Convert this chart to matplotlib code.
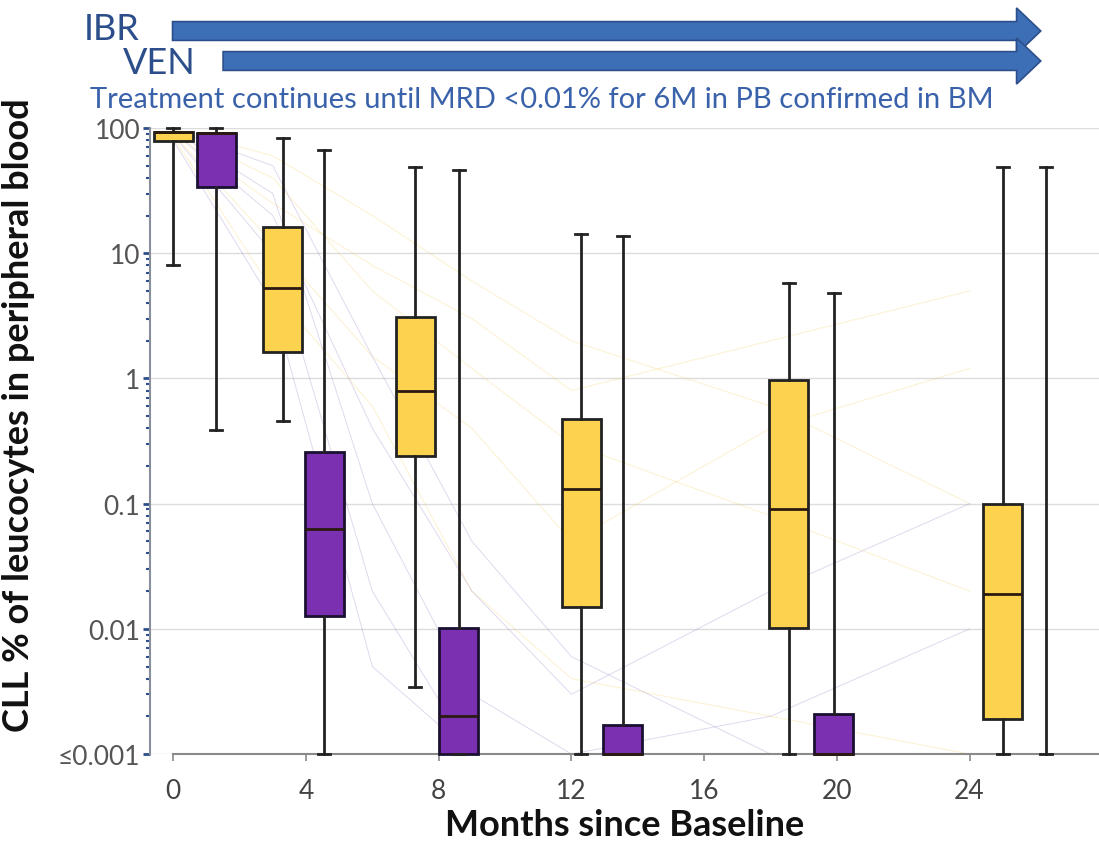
import matplotlib
matplotlib.use("Agg")
import matplotlib.pyplot as plt
from matplotlib.patches import FancyArrow
from matplotlib.ticker import LogLocator, NullFormatter, FixedLocator

plt.rcParams['font.family'] = ['Lato', 'DejaVu Sans']

# box summaries (CLL % of leucocytes)
# yellow = IBR arm, purple = IBR+VEN arm
yellow_month = [0, 3.3, 7.3, 12.3, 18.55, 25.0]
yellow_whishi = [100, 83, 49, 14.2, 5.8, 49]
yellow_q3 = [93, 16.2, 3.1, 0.47, 0.98, 0.10]
yellow_med = [93, 5.25, 0.80, 0.13, 0.091, 0.019]
yellow_q1 = [79, 1.64, 0.239, 0.0149, 0.0101, 0.0019]
yellow_whislo = [8.0, 0.46, 0.0034, 0.001, 0.001, 0.001]

purple_month = [1.3, 4.55, 8.6, 13.55, 19.9, 26.3]
purple_whishi = [100, 67, 46, 13.7, 4.8, 49]
purple_q3 = [91, 0.257, 0.0101, 0.0017, 0.0021, 0.001]
purple_med = [91, 0.063, 0.002, 0.001, 0.001, 0.001]
purple_q1 = [34, 0.0127, 0.001, 0.001, 0.001, 0.001]
purple_whislo = [0.39, 0.001, 0.001, 0.001, 0.001, 0.001]

# a few faint individual trajectories in the background
traj_month = [0, 3, 6, 9, 12, 18, 24]
yellow_traj = [
    [95, 40, 5, 1.2, 0.3, 0.08, 0.02],
    [90, 12, 1.5, 0.4, 0.05, 0.4, 1.2],
    [98, 60, 20, 6, 2, 0.6, 0.1],
    [85, 5, 0.6, 0.02, 0.004, 0.002, 0.001],
    [92, 25, 8, 3, 0.8, 2, 5],
]
purple_traj = [
    [95, 30, 0.1, 0.003, 0.001, 0.001, 0.001],
    [88, 10, 0.02, 0.001, 0.001, 0.002, 0.01],
    [97, 50, 1.5, 0.05, 0.006, 0.001, 0.001],
    [80, 4, 0.005, 0.001, 0.001, 0.001, 0.001],
    [93, 20, 0.4, 0.02, 0.003, 0.02, 0.1],
]

yticks = [100, 10, 1, 0.1, 0.01, 0.001]
ytick_labels = ['100', '10', '1', '0.1', '0.01', '≤0.001']
xticks = [0, 4, 8, 12, 16, 20, 24]

YELLOW = '#fdd24f'
PURPLE = '#7a30b0'
BLUE = '#3d6fb6'
DARKBLUE = '#2c4f8c'


def stats(month, lo, q1, med, q3, hi):
    out = []
    for i in range(len(month)):
        out.append(dict(whislo=lo[i], q1=q1[i], med=med[i], q3=q3[i],
                        whishi=hi[i], fliers=[]))
    return out


fig = plt.figure(figsize=(10.99, 8.54), dpi=100)
ax = fig.add_axes([0.1365, 0.1159, 0.8635, 0.733])
ax.set_yscale('log')
ax.set_ylim(0.001, 100)
ax.set_xlim(-0.7, 27.9)

for row in yellow_traj:
    ax.plot(traj_month, row, color='#f5d060', lw=0.7, alpha=0.3, zorder=1)
for row in purple_traj:
    ax.plot(traj_month, row, color='#9a80c8', lw=0.7, alpha=0.3, zorder=1)

common = dict(widths=1.17, showfliers=False, patch_artist=True,
              whiskerprops=dict(color='#222222', lw=2),
              capprops=dict(color='#222222', lw=2),
              medianprops=dict(color='#2a1a10', lw=2),
              manage_ticks=False, zorder=3)
b1 = ax.bxp(stats(yellow_month, yellow_whislo, yellow_q1, yellow_med,
                  yellow_q3, yellow_whishi),
            positions=yellow_month,
            boxprops=dict(facecolor=YELLOW, edgecolor='#222222', lw=2),
            capwidths=0.36, **common)
b2 = ax.bxp(stats(purple_month, purple_whislo, purple_q1, purple_med,
                  purple_q3, purple_whishi),
            positions=purple_month,
            boxprops=dict(facecolor=PURPLE, edgecolor='#1a1030', lw=2),
            capwidths=0.36, **common)
for b in (b1, b2):
    for k in b:
        for art in b[k]:
            art.set_clip_on(False)
# last purple group has an empty box: only its whisker shows
b2['boxes'][-1].set_visible(False)
b2['medians'][-1].set_visible(False)

ax.yaxis.grid(True, which='major', color='#dcdcdc', lw=1)
ax.set_axisbelow(True)

ax.spines['top'].set_visible(False)
ax.spines['right'].set_visible(False)
ax.spines['left'].set_color('#8a8fa0')
ax.spines['left'].set_linewidth(1.5)
ax.spines['bottom'].set_color('#8a8a8a')
ax.spines['bottom'].set_linewidth(1.5)
ax.spines['bottom'].set_bounds(0, 27.9)

ax.yaxis.set_major_locator(FixedLocator(yticks))
ax.set_yticklabels(ytick_labels)
ax.yaxis.set_minor_locator(LogLocator(base=10, subs=range(2, 10)))
ax.yaxis.set_minor_formatter(NullFormatter())
ax.tick_params(axis='y', which='major', length=5, width=2, color=DARKBLUE,
               labelsize=19, labelcolor='#555555', pad=2)
ax.tick_params(axis='y', which='minor', length=3, width=1.5, color=DARKBLUE)

ax.set_xticks(xticks)
ax.tick_params(axis='x', length=5, width=1.2, color='#8a8a8a',
               labelsize=19, labelcolor='#444444', pad=12)

ax.set_ylabel('CLL % of leucocytes in peripheral blood', fontsize=26,
              fontweight='bold', color='#111111')
ax.yaxis.set_label_coords(-0.121, 0.543)
ax.set_xlabel('Months since Baseline', fontsize=26, fontweight='bold',
              color='#111111', labelpad=4)

# treatment arrows above the plot
fig.add_artist(FancyArrow(0.157, 1 - 32 / 854, 0.79, 0, width=0.022,
                          head_width=0.054, head_length=0.022,
                          length_includes_head=True, transform=fig.transFigure,
                          facecolor=BLUE, edgecolor=DARKBLUE, lw=1.2))
fig.add_artist(FancyArrow(0.203, 1 - 62 / 854, 0.744, 0, width=0.022,
                          head_width=0.054, head_length=0.022,
                          length_includes_head=True, transform=fig.transFigure,
                          facecolor=BLUE, edgecolor=DARKBLUE, lw=1.2))
fig.text(0.076, 1 - 30 / 854, 'IBR', fontsize=26, color=DARKBLUE,
         va='center', ha='left')
fig.text(0.112, 1 - 64 / 854, 'VEN', fontsize=26, color=DARKBLUE,
         va='center', ha='left')
fig.text(0.082, 1 - 100 / 854,
         'Treatment continues until MRD <0.01% for 6M in PB confirmed in BM',
         fontsize=21, color='#3a62aa', va='center', ha='left')

fig.savefig('out.png', dpi=100)
